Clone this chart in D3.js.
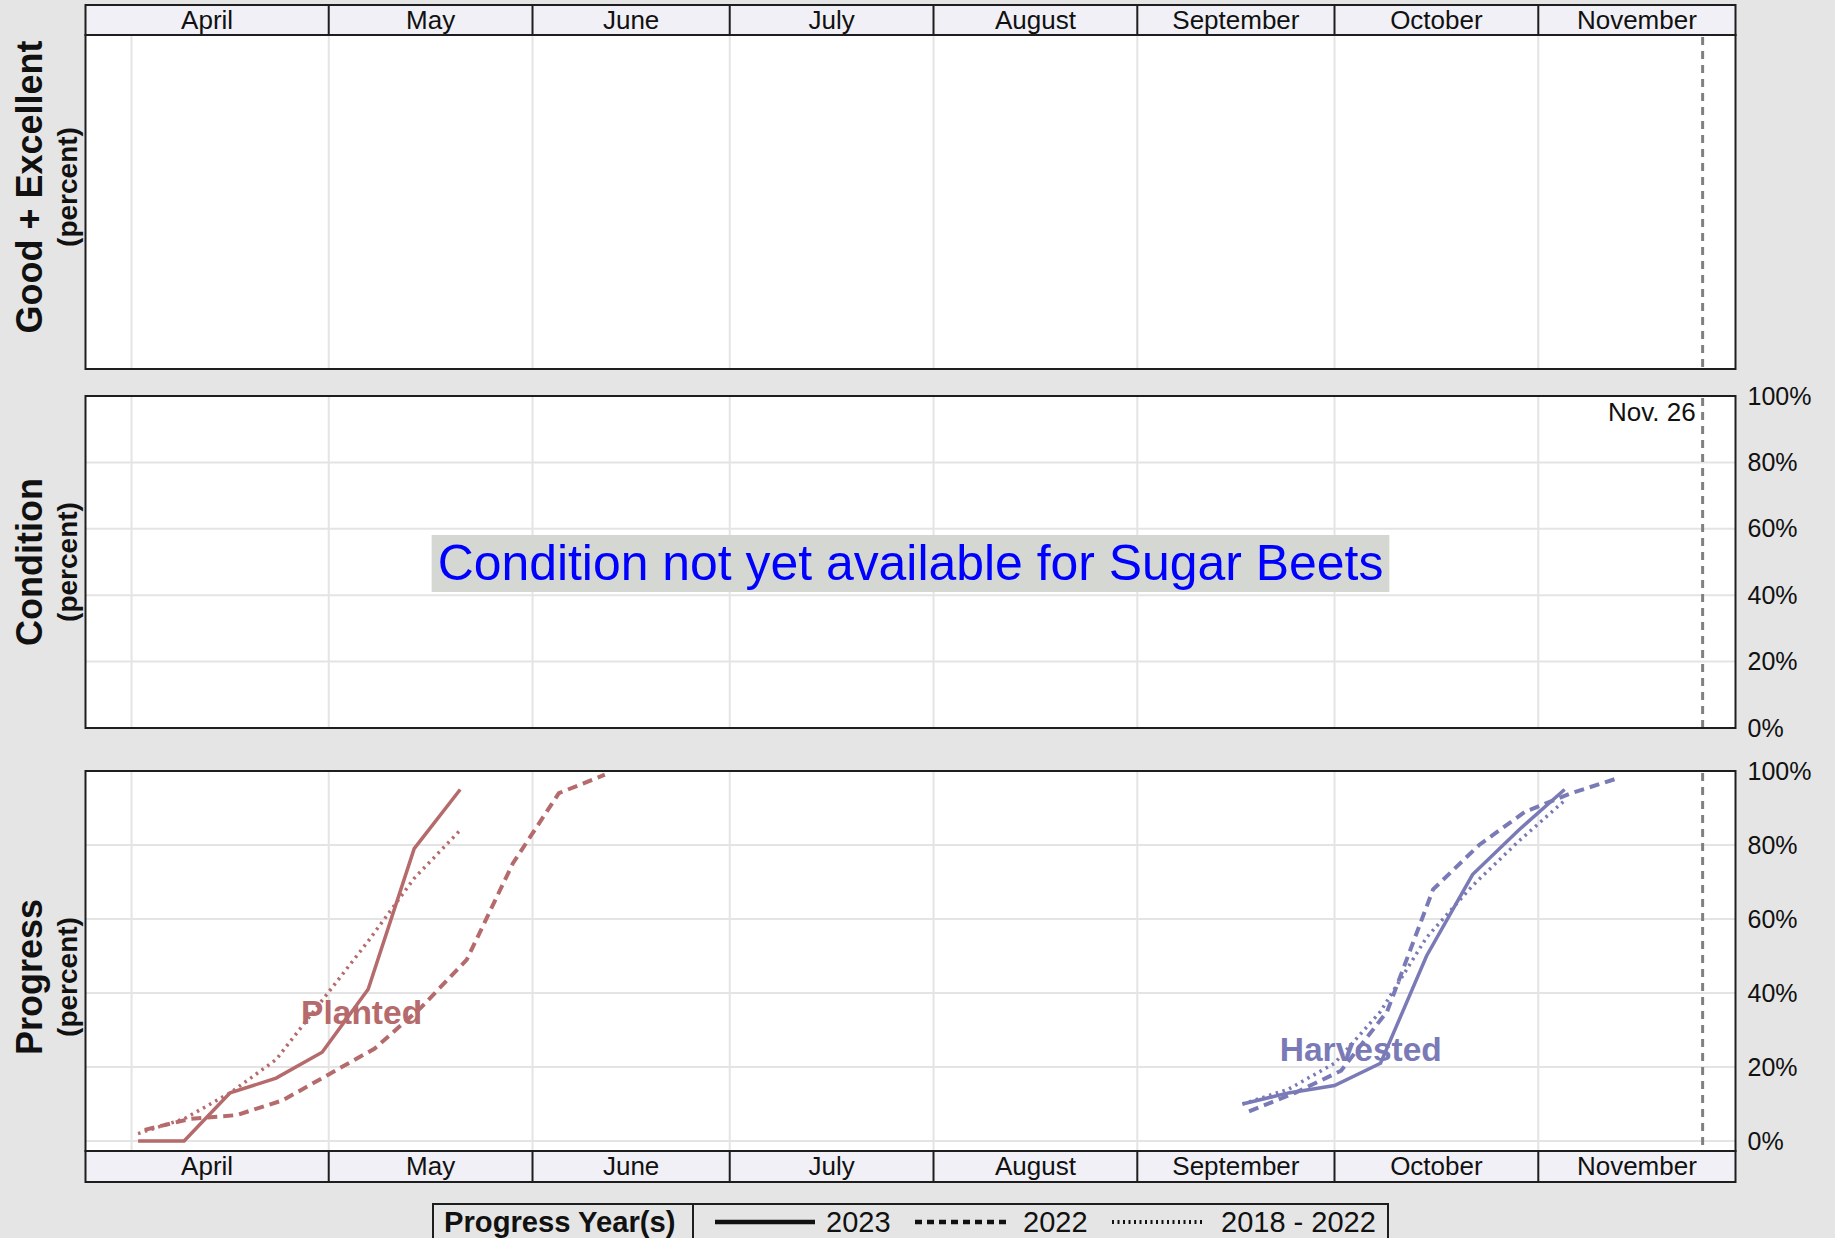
<!DOCTYPE html>
<html>
<head>
<meta charset="utf-8">
<script src="https://cdn.jsdelivr.net/npm/d3@7"></script>
<style>
    html, body { margin: 0; padding: 0; background: #e5e5e5; }
    svg { display: block; font-family: 'Liberation Sans', Arial, sans-serif; }
</style>
</head>
<body>
<div id="chart"></div>
<script>
// weekly progress, Sunday week-ending dates
const plantedWeeks2023 = ['2023-04-02', '2023-04-09', '2023-04-16', '2023-04-23', '2023-04-30', '2023-05-07', '2023-05-14', '2023-05-21'];
const planted2023 = [0, 0, 13, 17, 24, 41, 79, 95];
const plantedAvg = [2, 6, 13, 22, 38, 54, 71, 84];
const plantedWeeks2022 = ['2022-04-03', '2022-04-10', '2022-04-17', '2022-04-24', '2022-05-01', '2022-05-08', '2022-05-15', '2022-05-22', '2022-05-29', '2022-06-05', '2022-06-12'];
const planted2022 = [3, 6, 7, 11, 18, 25, 36, 49, 75, 94, 99];

const harvestedWeeks2023 = ['2023-09-17', '2023-09-24', '2023-10-01', '2023-10-08', '2023-10-15', '2023-10-22', '2023-10-29', '2023-11-05'];
const harvested2023 = [10, 13, 15, 21, 50, 72, 84, 95];
const harvestedAvg = [10, 14, 21, 35, 55, 69, 81, 92];
const harvestedWeeks2022 = ['2022-09-18', '2022-09-25', '2022-10-02', '2022-10-09', '2022-10-16', '2022-10-23', '2022-10-30', '2022-11-06', '2022-11-13'];
const harvested2022 = [8, 13, 19, 35, 68, 80, 89, 94, 98];

const percentTicks = [0, 20, 40, 60, 80, 100];
const currentWeek = '2023-11-26';
const currentWeekLabel = 'Nov. 26';
const panelTitles = ['Good + Excellent', 'Condition', 'Progress'];
const legendItems = ['2023', '2022', '2018 - 2022'];

const width = 1835;
const height = 1238;
const parse = d3.timeParse('%Y-%m-%d');
// previous years are drawn on the current calendar
const onCurrentYear = s => {
    const d = parse(s);
    d.setFullYear(2023);
    return d;
};

const svg = d3.select('#chart').append('svg')
    .attr('width', width)
    .attr('height', height);

svg.append('rect').attr('width', width).attr('height', height).attr('fill', '#e5e5e5');

const x = d3.scaleTime()
    .domain([new Date(2023, 2, 25), new Date(2023, 11, 1)])
    .range([85.5, 1735.5]);

const left = x.range()[0];
const right = x.range()[1];
const monthStarts = d3.timeMonth.range(new Date(2023, 3, 1), new Date(2023, 11, 1));
const gridDates = x.ticks(d3.timeMonth.every(1)).filter(d => d < x.domain()[1]);

const panels = [
    { title: panelTitles[0], top: 35, bottom: 369, y: null, titleY: 187 },
    { title: panelTitles[1], top: 396, bottom: 728, y: d3.scaleLinear().domain([0, 100]).range([728, 396]), titleY: 562 },
    { title: panelTitles[2], top: 771, bottom: 1151, y: d3.scaleLinear().domain([0, 100]).range([1141, 771]), titleY: 977 }
];

const plantedColor = '#b56a6c';
const harvestedColor = '#7a7ab6';
const gridColor = '#e4e4e4';
const borderColor = '#1e1e1e';

function drawStrip(top, bottom) {
    const g = svg.append('g');
    g.append('rect')
        .attr('x', left).attr('y', top)
        .attr('width', right - left).attr('height', bottom - top)
        .attr('fill', '#f0f0f6')
        .attr('stroke', borderColor).attr('stroke-width', 2);

    g.selectAll('line.sep')
        .data(monthStarts.slice(1))
        .enter().append('line')
        .attr('class', 'sep')
        .attr('x1', d => x(d)).attr('x2', d => x(d))
        .attr('y1', top).attr('y2', bottom)
        .attr('stroke', borderColor).attr('stroke-width', 2);

    // first band runs from the panel edge
    g.selectAll('text')
        .data(monthStarts)
        .enter().append('text')
        .attr('x', (d, i) => {
            const a = i === 0 ? left : x(d);
            const b = Math.min(x(d3.timeMonth.offset(d, 1)), right);
            return (a + b) / 2;
        })
        .attr('y', (top + bottom) / 2 + 8.5)
        .attr('text-anchor', 'middle')
        .attr('font-size', 26)
        .attr('fill', '#111')
        .text(d => d3.timeFormat('%B')(d));
}

function drawPanel(p) {
    const g = svg.append('g');
    g.append('rect')
        .attr('x', left).attr('y', p.top)
        .attr('width', right - left).attr('height', p.bottom - p.top)
        .attr('fill', '#fff');

    g.selectAll('line.vgrid')
        .data(gridDates)
        .enter().append('line')
        .attr('class', 'vgrid')
        .attr('x1', d => x(d)).attr('x2', d => x(d))
        .attr('y1', p.top).attr('y2', p.bottom)
        .attr('stroke', gridColor).attr('stroke-width', 2);

    if (p.y) {
        g.selectAll('line.hgrid')
            .data(percentTicks)
            .enter().append('line')
            .attr('class', 'hgrid')
            .attr('x1', left).attr('x2', right)
            .attr('y1', d => p.y(d)).attr('y2', d => p.y(d))
            .attr('stroke', gridColor).attr('stroke-width', 2);

        const axis = d3.axisRight(p.y)
            .tickValues(percentTicks)
            .tickFormat(d => d + '%')
            .tickSize(0)
            .tickPadding(12);
        const ag = g.append('g')
            .attr('transform', `translate(${right},0)`)
            .call(axis);
        ag.select('.domain').remove();
        ag.selectAll('text')
            .attr('font-size', 25)
            .attr('font-family', "'Liberation Sans', Arial, sans-serif")
            .attr('fill', '#111');
    }

    g.append('text')
        .attr('transform', `translate(42,${p.titleY}) rotate(-90)`)
        .attr('text-anchor', 'middle')
        .attr('font-size', 36)
        .attr('font-weight', 'bold')
        .attr('fill', '#111')
        .text(p.title);

    g.append('text')
        .attr('transform', `translate(77,${p.titleY}) rotate(-90)`)
        .attr('text-anchor', 'middle')
        .attr('font-size', 28)
        .attr('font-weight', 'bold')
        .attr('fill', '#111')
        .text('(percent)');

    p.g = g;
}

panels.forEach(drawPanel);

// condition message
const cond = panels[1];
const msg = cond.g.append('g');
const msgText = msg.append('text')
    .attr('x', (left + right) / 2)
    .attr('y', (cond.top + cond.bottom) / 2 + 18)
    .attr('text-anchor', 'middle')
    .attr('font-size', 49.9)
    .attr('fill', '#0000ff')
    .text('Condition not yet available for Sugar Beets');
const bb = msgText.node().getBBox();
msg.insert('rect', 'text')
    .attr('x', bb.x - 6).attr('y', 535)
    .attr('width', bb.width + 12).attr('height', 57)
    .attr('fill', '#d5d8d2');

// progress lines
const prog = panels[2];
const line = d3.line()
    .x(d => x(d.date))
    .y(d => prog.y(d.value));

function series(weeks, values, toDate) {
    return values.map((v, i) => ({ date: toDate(weeks[i]), value: v }));
}

const styles = {
    current: { width: 3.5, dash: null },
    last: { width: 4, dash: '10,6' },
    avg: { width: 3.5, dash: '2.5,4.5' }
};

const groups = [
    {
        label: 'Planted', color: plantedColor, labelDate: '2023-05-06', labelY: 1024,
        lines: [
            { style: 'current', data: series(plantedWeeks2023, planted2023, parse) },
            { style: 'last', data: series(plantedWeeks2022, planted2022, onCurrentYear) },
            { style: 'avg', data: series(plantedWeeks2023, plantedAvg, parse) }
        ]
    },
    {
        label: 'Harvested', color: harvestedColor, labelDate: '2023-10-05', labelY: 1061,
        lines: [
            { style: 'current', data: series(harvestedWeeks2023, harvested2023, parse) },
            { style: 'last', data: series(harvestedWeeks2022, harvested2022, onCurrentYear) },
            { style: 'avg', data: series(harvestedWeeks2023, harvestedAvg, parse) }
        ]
    }
];

groups.forEach(grp => {
    prog.g.append('text')
        .attr('x', x(parse(grp.labelDate)))
        .attr('y', grp.labelY)
        .attr('text-anchor', 'middle')
        .attr('font-size', 33.5)
        .attr('font-weight', 'bold')
        .attr('fill', grp.color)
        .text(grp.label);

    grp.lines.forEach(l => {
        prog.g.append('path')
            .datum(l.data)
            .attr('d', line)
            .attr('fill', 'none')
            .attr('stroke', grp.color)
            .attr('stroke-width', styles[l.style].width)
            .attr('stroke-dasharray', styles[l.style].dash);
    });
});

// current week marker
const weekX = x(parse(currentWeek));
panels.forEach(p => {
    p.g.append('line')
        .attr('x1', weekX).attr('x2', weekX)
        .attr('y1', p.top + 2).attr('y2', p.bottom)
        .attr('stroke', '#808080')
        .attr('stroke-width', 3)
        .attr('stroke-dasharray', '8,6');
});
cond.g.append('text')
    .attr('x', weekX - 7)
    .attr('y', 421)
    .attr('text-anchor', 'end')
    .attr('font-size', 26)
    .attr('fill', '#111')
    .text(currentWeekLabel);

// borders on top
panels.forEach(p => {
    p.g.append('rect')
        .attr('x', left).attr('y', p.top)
        .attr('width', right - left).attr('height', p.bottom - p.top)
        .attr('fill', 'none')
        .attr('stroke', borderColor).attr('stroke-width', 2);
});

drawStrip(5, 35);
drawStrip(1151, 1182);

// legend
const legend = svg.append('g');
legend.append('rect')
    .attr('x', 433).attr('y', 1204)
    .attr('width', 955).attr('height', 60)
    .attr('fill', '#e5e5e5')
    .attr('stroke', borderColor).attr('stroke-width', 2);
legend.append('line')
    .attr('x1', 693).attr('x2', 693)
    .attr('y1', 1204).attr('y2', 1264)
    .attr('stroke', borderColor).attr('stroke-width', 2);
legend.append('text')
    .attr('x', 444).attr('y', 1232)
    .attr('font-size', 29.2)
    .attr('font-weight', 'bold')
    .attr('fill', '#111')
    .text('Progress Year(s)');

const legendKeys = [
    { x1: 715, x2: 815, tx: 826, dash: null, w: 4.5 },
    { x1: 915, x2: 1009, tx: 1023, dash: '7,5', w: 4.5 },
    { x1: 1112, x2: 1205, tx: 1221, dash: '2,3.5', w: 4 }
];
legendKeys.forEach((k, i) => {
    legend.append('line')
        .attr('x1', k.x1).attr('x2', k.x2)
        .attr('y1', 1222).attr('y2', 1222)
        .attr('stroke', '#111')
        .attr('stroke-width', k.w)
        .attr('stroke-dasharray', k.dash);
    legend.append('text')
        .attr('x', k.tx).attr('y', 1232)
        .attr('font-size', 29)
        .attr('fill', '#111')
        .text(legendItems[i]);
});
</script>
</body>
</html>
